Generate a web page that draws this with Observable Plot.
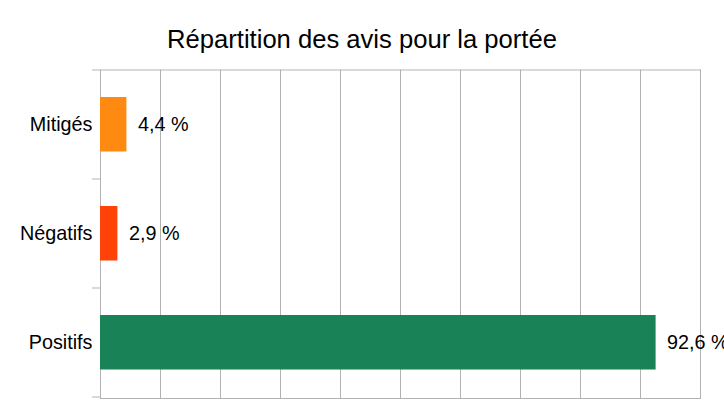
<!DOCTYPE html>
<html>
<head>
<meta charset="utf-8">
<script src="https://cdn.jsdelivr.net/npm/d3@7"></script>
<script src="https://cdn.jsdelivr.net/npm/@observablehq/plot@0.6"></script>
<style>
  html, body { margin: 0; padding: 0; background: #fff; }
  #title {
    box-sizing: border-box;
    height: 60px;
    padding-top: 23.5px;
    line-height: 30px;
    text-align: center;
    font-family: "Liberation Sans", Arial, sans-serif;
    font-size: 25.6px;
    color: #000;
    width: 724px;
  }
  svg { display: block; }
</style>
</head>
<body>
<div id="title">Répartition des avis pour la portée</div>
<div id="chart"></div>
<script>
const categories = ["Mitigés", "Négatifs", "Positifs"];
const values = [4.4, 2.9, 92.6];
const colors = ["#ff8a12", "#ff4208", "#1a8257"];
const xTicks = [0, 10, 20, 30, 40, 50, 60, 70, 80, 90, 100];

const data = categories.map((c, i) => ({category: c, value: values[i], color: colors[i]}));
const fmt = v => v.toFixed(1).replace(".", ",") + " %";
const gridColor = "#b3b3b3";
const FS = 19.8;

function boundaryTicks(index, scales) {
  const y = scales.y;
  const bw = typeof y.bandwidth === "function" ? y.bandwidth() : scales.scales.y.bandwidth;
  const x0 = scales.x(0);
  const edges = categories.map(c => y(c)).concat([y(categories[categories.length - 1]) + bw]);
  const g = d3.create("svg:g").attr("stroke", gridColor).attr("stroke-width", 1);
  for (const e of edges) {
    g.append("line")
      .attr("x1", x0 - 8).attr("x2", x0)
      .attr("y1", e).attr("y2", e);
  }
  return g.node();
}

const chart = Plot.plot({
  width: 724,
  height: 347,
  marginLeft: 100,
  marginRight: 24,
  marginTop: 9.5,
  marginBottom: 9,
  style: {fontFamily: "'Liberation Sans', Arial, sans-serif", fontSize: FS + "px", color: "#000", background: "#fff"},
  x: {domain: [0, 100], axis: null},
  y: {domain: categories, padding: 0, axis: null, label: null},
  marks: [
    Plot.gridX(xTicks, {stroke: gridColor, strokeOpacity: 1}),
    Plot.frame({stroke: gridColor}),
    boundaryTicks,
    Plot.barX(data, {x: "value", y: "category", fill: "color", insetTop: 27, insetBottom: 27.5}),
    Plot.text(data, {x: "value", y: "category", text: d => fmt(d.value), textAnchor: "start", dx: 11, fill: "#000", fontSize: FS}),
    Plot.axisY({tickSize: 0, tickPadding: 8, fontSize: FS, fill: "#000", label: null})
  ]
});
document.getElementById("chart").appendChild(chart);
</script>
</body>
</html>
